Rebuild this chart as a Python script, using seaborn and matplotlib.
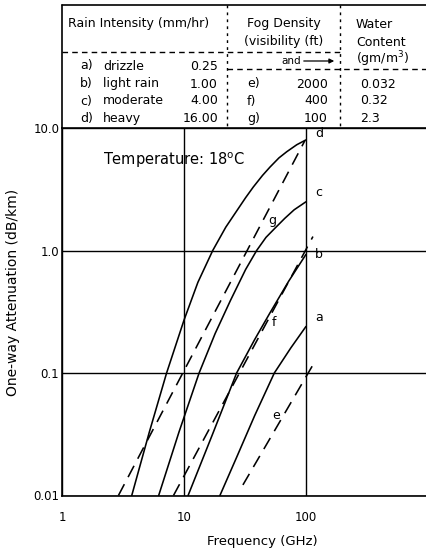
import matplotlib
matplotlib.use("Agg")
import matplotlib.pyplot as plt
import pandas as pd
import seaborn as sns
from matplotlib.lines import Line2D
from matplotlib.patches import FancyArrowPatch

# Rain attenuation curves: frequency (GHz) and one-way attenuation (dB/km)
rain_a_freq = [19.7, 27, 38, 55, 75, 100]
rain_a_att = [0.01, 0.0205, 0.045, 0.1, 0.16, 0.24]
rain_b_freq = [10.8, 17, 27, 38, 50.7, 72, 100]
rain_b_att = [0.01, 0.031, 0.1, 0.188, 0.31, 0.56, 0.93]
rain_c_freq = [6.2, 9.1, 13.3, 18, 24, 32, 39.4, 47, 56, 67, 80, 100]
rain_c_att = [0.01, 0.033, 0.1, 0.21, 0.39, 0.7, 1.0, 1.28, 1.53, 1.83, 2.15, 2.5]
rain_d_freq = [3.73, 5.2, 7.2, 10, 13, 17.2, 22, 27, 32, 37, 44, 50.7, 60, 69.5, 84, 100]
rain_d_att = [0.01, 0.033, 0.1, 0.27, 0.55, 1.0, 1.55, 2.1, 2.7, 3.3, 4.1, 4.8, 5.7, 6.4, 7.3, 8.0]

# Fog attenuation curves
fog_e_freq = [30.4, 116]
fog_e_att = [0.0122, 0.12]
fog_f_freq = [8.2, 114]
fog_f_att = [0.01, 1.3]
fog_g_freq = [2.9, 98]
fog_g_att = [0.01, 7.9]

# Legend table contents
rain_keys = ["a)", "b)", "c)", "d)"]
rain_names = ["drizzle", "light rain", "moderate", "heavy"]
rain_rates = ["0.25", "1.00", "4.00", "16.00"]
fog_keys = ["e)", "f)", "g)"]
fog_visibility = ["2000", "400", "100"]
water_content = ["0.032", "0.32", "2.3"]

x_ticks = [1, 10, 100]
x_tick_labels = ["1", "10", "100"]
y_ticks = [0.01, 0.1, 1, 10]
y_tick_labels = ["0.01", "0.1", "1.0", "10.0"]

curves = {
    "a": ("rain", rain_a_freq, rain_a_att),
    "b": ("rain", rain_b_freq, rain_b_att),
    "c": ("rain", rain_c_freq, rain_c_att),
    "d": ("rain", rain_d_freq, rain_d_att),
    "e": ("fog", fog_e_freq, fog_e_att),
    "f": ("fog", fog_f_freq, fog_f_att),
    "g": ("fog", fog_g_freq, fog_g_att),
}
rows = []
for name, (kind, fr, at) in curves.items():
    for f, a in zip(fr, at):
        rows.append({"curve": name, "kind": kind, "freq": f, "atten": a})
df = pd.DataFrame(rows)

sns.set_theme(style="white")
plt.rcParams["font.family"] = ["DejaVu Sans"]
plt.rcParams["text.color"] = "black"

W, H = 426, 552
fig = plt.figure(figsize=(W / 100, H / 100), dpi=100)


def fx(px):
    return px / W


def fy(py):
    return 1 - py / H


left, right, top, bottom = 62, 426, 128, 495.5
ax = fig.add_axes([fx(left), fy(bottom), fx(right) - fx(left), fy(top) - fy(bottom)])

sns.lineplot(data=df, x="freq", y="atten", units="curve", style="kind",
             estimator=None, sort=False, color="black", linewidth=1.15,
             dashes={"rain": "", "fog": (8, 5)}, legend=False, ax=ax)

ax.set_xscale("log")
ax.set_yscale("log")
ax.set_xlim(1, 10 ** ((right - left) / 122))
ax.set_ylim(0.01, 10)
ax.set_xticks(x_ticks)
ax.set_xticklabels(x_tick_labels)
ax.set_yticks(y_ticks)
ax.set_yticklabels(y_tick_labels)
ax.minorticks_off()
ax.tick_params(axis="both", length=0, labelsize=8.5, colors="black")
ax.tick_params(axis="x", pad=11)
ax.tick_params(axis="y", pad=2)
ax.grid(True, which="major", color="black", linewidth=1.0)
ax.set_xlabel("")
ax.set_ylabel("")
for side in ["left", "bottom", "top"]:
    ax.spines[side].set_visible(True)
    ax.spines[side].set_color("black")
    ax.spines[side].set_linewidth(1.2)
ax.spines["right"].set_visible(False)

# Curve letters
lbl = dict(fontsize=9, ha="left", va="center")
ax.text(118, 9.1, "d", **lbl)
ax.text(118, 3.0, "c", **lbl)
ax.text(118, 0.92, "b", **lbl)
ax.text(118, 0.286, "a", **lbl)
ax.text(48.8, 1.77, "g", **lbl)
ax.text(52.6, 0.256, "f", **lbl)
ax.text(52.6, 0.0454, "e", **lbl)

ax.text(2.17, 5.48, "Temperature: 18$^\\mathrm{o}$C", fontsize=10.5, ha="left", va="center")

fig.text(fx(262), fy(542), "Frequency (GHz)", fontsize=9.5, ha="center", va="center")
fig.text(fx(13), fy(292), "One-way Attenuation (dB/km)", fontsize=10,
         rotation=90, ha="center", va="center")

# Table frame
def hline(y, x0, x1, ls="-", lw=1.2):
    fig.add_artist(Line2D([fx(x0), fx(x1)], [fy(y), fy(y)], color="black",
                          linewidth=lw, linestyle=ls))


def vline(x, y0, y1, ls="-", lw=1.2):
    fig.add_artist(Line2D([fx(x), fx(x)], [fy(y0), fy(y1)], color="black",
                          linewidth=lw, linestyle=ls))


dash = (0, (4, 3))
hline(5, 62, 426)
vline(62, 5, 128)
vline(227, 5, 128, ls=(0, (2, 3)), lw=1.0)
vline(340, 5, 128, ls=(0, (2, 3)), lw=1.0)
hline(52, 62, 340, ls=dash, lw=1.0)
hline(69, 227, 426, ls=dash, lw=1.0)

tk = dict(fontsize=9, va="center")
fig.text(fx(68), fy(24), "Rain Intensity (mm/hr)", ha="left", **tk)
fig.text(fx(247), fy(24), "Fog Density", ha="left", **tk)
fig.text(fx(244), fy(42), "(visibility (ft)", ha="left", **tk)
fig.text(fx(356), fy(24), "Water", ha="left", **tk)
fig.text(fx(356), fy(42), "Content", ha="left", **tk)
fig.text(fx(356), fy(59), "(gm/m$^3$)", ha="left", **tk)
fig.text(fx(281), fy(61), "and", ha="left", fontsize=7.5, va="center")
fig.add_artist(FancyArrowPatch((fx(301), fy(61)), (fx(337), fy(61)),
                               transform=fig.transFigure, arrowstyle="-|>",
                               mutation_scale=7, color="black", linewidth=0.9))

row_y = [66, 84, 101, 118]
for i in range(4):
    fig.text(fx(80), fy(row_y[i]), rain_keys[i], ha="left", **tk)
    fig.text(fx(103), fy(row_y[i]), rain_names[i], ha="left", **tk)
    fig.text(fx(218), fy(row_y[i]), rain_rates[i], ha="right", **tk)
for i in range(3):
    y = row_y[i + 1]
    fig.text(fx(247), fy(y), fog_keys[i], ha="left", **tk)
    fig.text(fx(328), fy(y), fog_visibility[i], ha="right", **tk)
    fig.text(fx(360), fy(y), water_content[i], ha="left", **tk)

fig.savefig("out.png", dpi=100, facecolor="white")
